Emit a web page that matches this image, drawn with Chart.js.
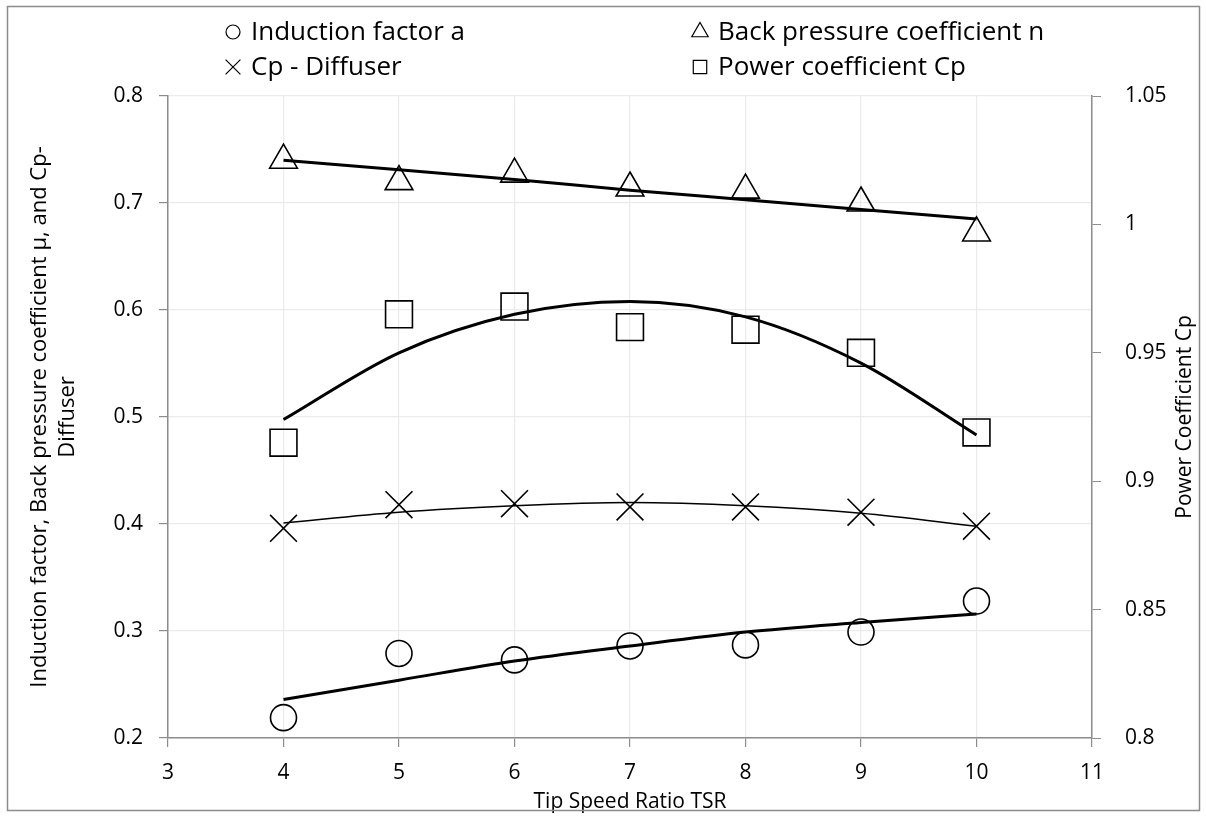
<!DOCTYPE html>
<html>
<head>
<meta charset="utf-8">
<script src="https://cdn.jsdelivr.net/npm/chart.js@4.4.1/dist/chart.umd.min.js"></script>
<style>
  html, body { margin: 0; padding: 0; background: #fff; }
</style>
</head>
<body>
<canvas id="tsrChart" width="1206" height="816"></canvas>
<script>
// tip speed ratio (x axis)
const tsr = [4, 5, 6, 7, 8, 9, 10];

// measured points
const inductionA   = [0.219, 0.279, 0.273, 0.286, 0.287, 0.299, 0.328];
const backPressure = [0.740, 0.720, 0.727, 0.714, 0.712, 0.700, 0.672];
const cpDiffuser   = [0.396, 0.418, 0.419, 0.416, 0.416, 0.411, 0.398];
const powerCp      = [0.915, 0.965, 0.968, 0.960, 0.959, 0.950, 0.919];

// trendlines at each TSR
const inductionTrend = [0.236, 0.254, 0.272, 0.286, 0.299, 0.308, 0.316];
const backTrend      = [0.740, 0.731, 0.722, 0.712, 0.703, 0.694, 0.685];
const cpDiffTrend    = [0.401, 0.411, 0.417, 0.420, 0.417, 0.410, 0.398];
const powerTrend     = [0.924, 0.950, 0.965, 0.970, 0.964, 0.946, 0.918];

// tick labels
const xTicks     = [3, 4, 5, 6, 7, 8, 9, 10, 11];
const leftTicks  = [0.2, 0.3, 0.4, 0.5, 0.6, 0.7, 0.8];
const rightTicks = [0.8, 0.85, 0.9, 0.95, 1, 1.05];

const FONT = '"Open Sans", "Noto Sans", sans-serif';
const AXIS_GREY = '#8c8c8c';
const GRID_GREY = '#ebebeb';

function pts(ys) {
  return tsr.map((x, i) => ({x: x, y: ys[i]}));
}

function markerSet(label, ys, style, radius, axis) {
  return {
    label: label, data: pts(ys), yAxisID: axis,
    pointStyle: style, pointRadius: radius, pointHoverRadius: radius,
    pointBorderColor: '#000', pointBackgroundColor: 'rgba(0,0,0,0)',
    pointBorderWidth: 1.6, showLine: false
  };
}

function trendSet(ys, width, axis) {
  return {
    label: '', data: pts(ys), yAxisID: axis,
    showLine: true, pointRadius: 0, borderColor: '#000', borderWidth: width,
    cubicInterpolationMode: 'monotone', fill: false
  };
}

// legend drawn in a 2x2 grid like the original, plus the right title reading upward
const legendSpots = [[233, 32], [700, 32], [233, 67], [700, 67]];
const legendRadius = [7, 9.5, 10.5, 9.5];

const tsrExtras = {
  id: 'tsrExtras',
  beforeDraw(chart) {
    const ctx = chart.ctx;
    ctx.save();
    ctx.fillStyle = '#fff';
    ctx.fillRect(0, 0, chart.width, chart.height);
    ctx.restore();
  },
  afterDraw(chart) {
    const ctx = chart.ctx;
    ctx.save();
    // frame
    ctx.strokeStyle = AXIS_GREY;
    ctx.lineWidth = 1.5;
    ctx.strokeRect(7.5, 6.5, 1192, 804);

    // legend
    ctx.font = '26px ' + FONT;
    ctx.textBaseline = 'middle';
    ctx.strokeStyle = '#000';
    legendSpots.forEach((p, i) => {
      const ds = chart.data.datasets[i];
      ctx.fillStyle = 'rgba(0,0,0,0)';
      ctx.lineWidth = 1.2;
      Chart.helpers.drawPoint(ctx, {pointStyle: ds.pointStyle, radius: legendRadius[i], rotation: 0, borderWidth: 1.2}, p[0], p[1]);
      ctx.fillStyle = '#000';
      ctx.fillText(ds.label, p[0] + 18, p[1] + 1);
    });

    // right axis title
    const a = chart.chartArea;
    ctx.font = '21px ' + FONT;
    ctx.textAlign = 'center';
    ctx.translate(1185, (a.top + a.bottom) / 2);
    ctx.rotate(-Math.PI / 2);
    ctx.fillText('Power Coefficient Cp', 0, 0);
    ctx.restore();
  }
};

const ctx = document.getElementById('tsrChart');

const tsrChart = new Chart(ctx, {
  type: 'scatter',
  data: {
    datasets: [
      markerSet('Induction factor a', inductionA, 'circle', 13, 'y'),
      markerSet('Back pressure coefficient n', backPressure, 'triangle', 16, 'y'),
      markerSet('Cp - Diffuser', cpDiffuser, 'crossRot', 19, 'y'),
      markerSet('Power coefficient Cp', powerCp, 'rect', 19, 'y1'),
      trendSet(inductionTrend, 3, 'y'),
      trendSet(backTrend, 3, 'y'),
      trendSet(cpDiffTrend, 1.5, 'y'),
      trendSet(powerTrend, 3, 'y1')
    ]
  },
  options: {
    responsive: false,
    animation: false,
    layout: {padding: {left: 0, right: 0, top: 96, bottom: 0}},
    plugins: {legend: {display: false}, tooltip: {enabled: false}},
    scales: {
      x: {
        type: 'linear', min: 3, max: 11,
        afterBuildTicks: s => { s.ticks = xTicks.map(v => ({value: v})); },
        afterFit: s => { s.height = 78; },
        ticks: {color: '#000', font: {family: FONT, size: 21}, padding: 13, callback: v => String(v)},
        grid: {color: GRID_GREY, lineWidth: 1.2, tickColor: AXIS_GREY, tickLength: 9},
        border: {color: AXIS_GREY, width: 1.5},
        title: {display: true, text: 'Tip Speed Ratio TSR', color: '#000', font: {family: FONT, size: 21}, padding: {top: 0, bottom: 1}}
      },
      y: {
        position: 'left', min: 0.2, max: 0.8,
        afterBuildTicks: s => { s.ticks = leftTicks.map(v => ({value: v})); },
        afterFit: s => { s.width = 168; },
        ticks: {color: '#000', font: {family: FONT, size: 21}, padding: 16, callback: v => String(v)},
        grid: {color: GRID_GREY, lineWidth: 1.2, tickColor: AXIS_GREY, tickLength: 9},
        border: {color: AXIS_GREY, width: 1.5},
        title: {
          display: true,
          text: ['Induction factor, Back pressure coefficient \u03bc, and Cp-', 'Diffuser'],
          color: '#000', font: {family: FONT, size: 22, lineHeight: 1.3}, padding: {top: 25, bottom: 0}
        }
      },
      y1: {
        position: 'right', min: 0.8, max: 1.05,
        afterBuildTicks: s => { s.ticks = rightTicks.map(v => ({value: v})); },
        afterFit: s => { s.width = 114; },
        ticks: {color: '#000', font: {family: FONT, size: 21}, padding: 24, callback: v => String(v)},
        grid: {drawOnChartArea: false, tickColor: AXIS_GREY, tickLength: 9},
        border: {color: AXIS_GREY, width: 1.5}
      }
    }
  },
  plugins: [tsrExtras]
});
</script>
</body>
</html>
